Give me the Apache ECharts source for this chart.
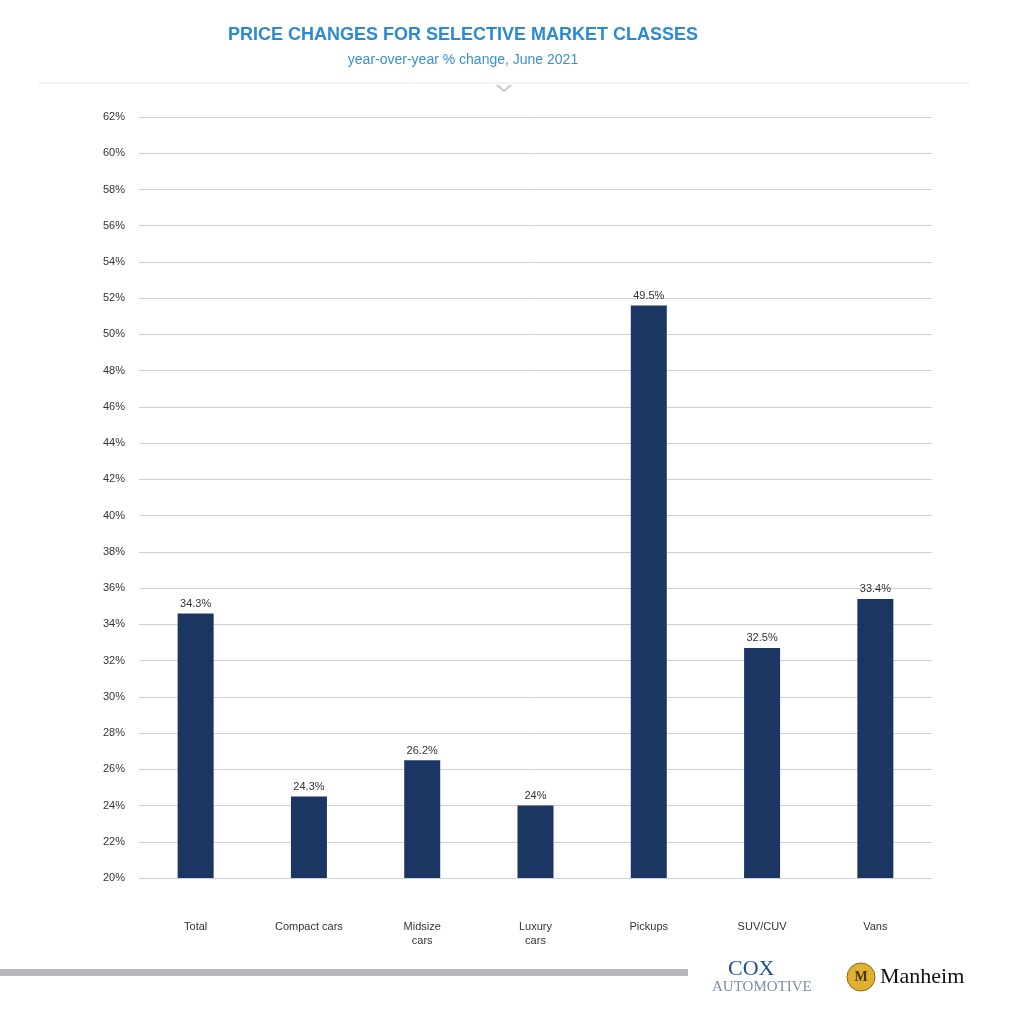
<!DOCTYPE html>
<html><head><meta charset="utf-8">
<script src="https://cdn.jsdelivr.net/npm/echarts@6/dist/echarts.min.js"></script>
<style>html,body{margin:0;padding:0;background:#fff}#c{width:1009px;height:1024px}</style>
</head><body><div id="c"></div>
<script>
const categories = ['Total', 'Compact cars', 'Midsize\ncars', 'Luxury\ncars', 'Pickups', 'SUV/CUV', 'Vans'];
const barValues = [34.6, 24.5, 26.5, 24.0, 51.6, 32.7, 35.4];
const barLabels = ['34.3%', '24.3%', '26.2%', '24%', '49.5%', '32.5%', '33.4%'];

const chart = echarts.init(document.getElementById('c'));
chart.setOption({
  animation: false,
  title: [
    {text: 'PRICE CHANGES FOR SELECTIVE MARKET CLASSES', left: 458, top: 21, textAlign: 'center',
     textStyle: {color: '#2a8ad3', fontSize: 18, fontWeight: 'bold', fontFamily: 'Liberation Sans'}},
    {text: 'year-over-year % change, June 2021', left: 458, top: 48, textAlign: 'center',
     textStyle: {color: '#3a8fd0', fontSize: 14, fontWeight: 'normal', fontFamily: 'Liberation Sans'}}
  ],
  grid: {left: 139, right: 77, top: 117, bottom: 146, containLabel: false},
  xAxis: {type: 'category', data: categories,
    axisLine: {show: false}, axisTick: {show: false},
    axisLabel: {color: '#333', fontSize: 11, margin: 42, fontFamily: 'Liberation Sans', lineHeight: 14}},
  yAxis: {type: 'value', min: 20, max: 62, interval: 2,
    axisLine: {show: false}, axisTick: {show: false},
    axisLabel: {formatter: '{value}%', color: '#333', fontSize: 11, margin: 14, fontFamily: 'Liberation Sans'},
    splitLine: {lineStyle: {color: '#d0d0d0'}}},
  series: [{type: 'bar', barWidth: 36,
    data: barValues.map((v, i) => ({value: v, label: {formatter: barLabels[i]}})),
    itemStyle: {color: '#1c3664'},
    label: {show: true, position: 'top', color: '#333', fontSize: 11, distance: 4, fontFamily: 'Liberation Sans'}}],
  graphic: [
    {type: 'line', shape: {x1: 38, y1: 83, x2: 970, y2: 83}, style: {stroke: '#e8e8e8', lineWidth: 1}},
    {type: 'polyline', shape: {points: [[497, 85], [504, 91], [511, 85]]}, style: {stroke: '#c8c8c8', lineWidth: 2, fill: null}},
    {type: 'rect', shape: {x: 0, y: 969, width: 688, height: 7}, style: {fill: '#b8b9bd'}},
    {type: 'text', style: {x: 728, y: 958, text: 'COX', fill: '#1f4f8f', font: '22px "Liberation Serif"'}},
    {type: 'text', style: {x: 712, y: 980, text: 'AUTOMOTIVE', fill: '#7a8fa8', font: '15px "Liberation Serif"'}},
    {type: 'circle', shape: {cx: 861, cy: 977, r: 14}, style: {fill: '#e0b030', stroke: '#8a6a10'}},
    {type: 'text', style: {x: 861, y: 977, text: 'M', fill: '#4a3508', font: 'bold 14px "Liberation Serif"', align: 'center', verticalAlign: 'middle'}},
    {type: 'text', style: {x: 880, y: 966, text: 'Manheim', fill: '#111', font: '22px "Liberation Serif"'}}
  ]
});
</script></body></html>
